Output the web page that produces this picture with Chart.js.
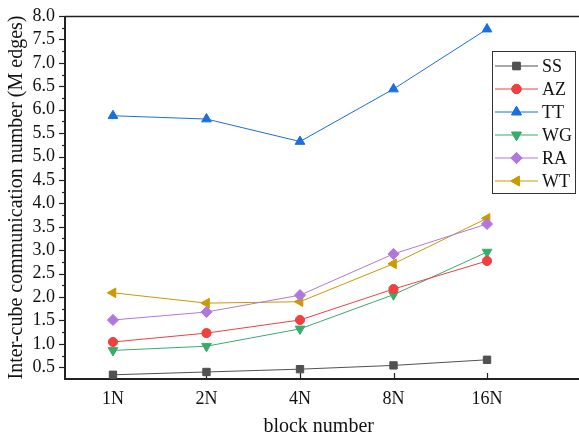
<!DOCTYPE html>
<html>
<head>
<meta charset="utf-8">
<script src="https://cdn.jsdelivr.net/npm/chart.js@4/dist/chart.umd.min.js"></script>
<style>
  html, body { margin: 0; padding: 0; background: #fff; }
  #wrap { width: 579px; height: 437px; }
</style>
</head>
<body>
<div id="wrap"><canvas id="commChart" width="579" height="437"></canvas></div>
<script>
const blockLabels = ['1N', '2N', '4N', '8N', '16N'];

const ss = [0.34, 0.40, 0.46, 0.54, 0.66];
const az = [1.04, 1.23, 1.51, 2.17, 2.77];
const tt = [5.87, 5.80, 5.32, 6.44, 7.72];
const wg = [0.86, 0.95, 1.32, 2.05, 2.96];
const ra = [1.51, 1.68, 2.04, 2.92, 3.56];
const wt = [2.09, 1.87, 1.90, 2.71, 3.68];

const FONT = '"Liberation Serif", "Times New Roman", serif';
const AXIS = '#222';

function series(label, values, color, style, rotation, radius) {
  return {
    label: label,
    data: values.map((v, i) => ({ x: i, y: v })),
    borderColor: color,
    backgroundColor: color,
    borderWidth: 1,
    pointStyle: style,
    rotation: rotation,
    pointRadius: radius,
    pointHoverRadius: radius,
    pointBorderWidth: 1,
    pointBorderColor: color,
    pointBackgroundColor: color
  };
}

// axis lines + ticks like the original (y ticks outward, x ticks inward)
const frame = {
  id: 'frame',
  beforeDatasetsDraw(chart) {
    const ctx = chart.ctx;
    const a = chart.chartArea;
    const xs = chart.scales.x, ys = chart.scales.y;
    const edge = chart.width;
    ctx.save();
    ctx.strokeStyle = AXIS;
    ctx.lineWidth = 1.2;
    for (let v = 0.5; v <= 8.001; v += 0.25) {
      const y = Math.round(ys.getPixelForValue(v)) + 0.5;
      const major = Math.abs(v * 2 - Math.round(v * 2)) < 1e-6;
      ctx.beginPath();
      ctx.moveTo(a.left, y);
      ctx.lineTo(a.left - (major ? 6 : 3), y);
      ctx.stroke();
    }
    blockLabels.forEach((_, i) => {
      const x = Math.round(xs.getPixelForValue(i)) + 0.5;
      ctx.beginPath();
      ctx.moveTo(x, a.bottom);
      ctx.lineTo(x, a.bottom - 6);
      ctx.stroke();
    });
    ctx.lineWidth = 1.5;
    ctx.beginPath();
    ctx.moveTo(a.left, a.top + 0.5);
    ctx.lineTo(edge, a.top + 0.5);
    ctx.stroke();
    ctx.lineWidth = 2;
    ctx.beginPath();
    ctx.moveTo(a.left, a.top);
    ctx.lineTo(a.left, a.bottom);
    ctx.lineTo(edge, a.bottom);
    ctx.stroke();
    ctx.restore();
  }
};

// boxed legend inside the plot, top right
const boxLegend = {
  id: 'boxLegend',
  afterDraw(chart) {
    const ctx = chart.ctx;
    const bx = 492.5, by = 51.5, bw = 83, bh = 142;
    ctx.save();
    ctx.fillStyle = '#fff';
    ctx.fillRect(bx, by, bw, bh);
    ctx.strokeStyle = '#333';
    ctx.lineWidth = 1;
    ctx.strokeRect(bx, by, bw, bh);
    chart.data.datasets.forEach((ds, i) => {
      const y = 66 + i * 23;
      ctx.strokeStyle = ds.borderColor;
      ctx.lineWidth = 1;
      ctx.beginPath();
      ctx.moveTo(495, y);
      ctx.lineTo(538, y);
      ctx.stroke();
      ctx.fillStyle = ds.backgroundColor;
      Chart.helpers.drawPoint(ctx, {
        pointStyle: ds.pointStyle,
        rotation: ds.rotation,
        radius: ds.pointRadius,
        borderWidth: 1
      }, 516.5, y);
      ctx.fill();
      ctx.stroke();
      ctx.fillStyle = '#111';
      ctx.font = '18px ' + FONT;
      ctx.textBaseline = 'middle';
      ctx.textAlign = 'left';
      ctx.fillText(ds.label, 542, y + 1);
    });
    ctx.restore();
  }
};

new Chart(document.getElementById('commChart'), {
  type: 'line',
  data: {
    datasets: [
      series('SS', ss, '#515151', 'rect', 0, 5.2),
      series('AZ', az, '#F14040', 'circle', 0, 4.6),
      series('TT', tt, '#1A6FDF', 'triangle', 0, 5.6),
      series('WG', wg, '#37AD6B', 'triangle', 180, 5.6),
      series('RA', ra, '#B177DE', 'rectRot', 0, 5.6),
      series('WT', wt, '#CC9900', 'triangle', -90, 5.6)
    ]
  },
  options: {
    responsive: false,
    animation: false,
    devicePixelRatio: 1,
    layout: { padding: { top: 16, right: 0, left: 0, bottom: 0 } },
    plugins: { legend: { display: false }, tooltip: { enabled: false } },
    scales: {
      x: {
        type: 'linear',
        min: -0.513,
        max: 4.913,
        grid: { display: false, drawTicks: false },
        border: { display: false },
        afterBuildTicks: s => { s.ticks = blockLabels.map((_, i) => ({ value: i })); },
        afterFit: s => { s.height = 58; s.paddingLeft = 0; s.paddingRight = 0; },
        ticks: {
          padding: 9,
          autoSkip: false,
          maxRotation: 0,
          color: '#111',
          font: { family: FONT, size: 18 },
          callback: v => blockLabels[v]
        },
        title: {
          display: true,
          text: 'block number',
          color: '#111',
          font: { family: FONT, size: 20 },
          padding: { top: 0, bottom: -2 }
        }
      },
      y: {
        min: 0.25,
        max: 8.0,
        grid: { display: false, drawTicks: false },
        border: { display: false },
        afterBuildTicks: s => {
          const t = [];
          for (let k = 1; k <= 16; k++) t.push({ value: k * 0.5 });
          s.ticks = t;
        },
        afterFit: s => { s.width = 65; s.paddingTop = 0; s.paddingBottom = 0; },
        ticks: {
          padding: 10,
          autoSkip: false,
          color: '#111',
          font: { family: FONT, size: 18 },
          callback: v => Number(v).toFixed(1)
        },
        title: {
          display: true,
          text: 'Inter-cube communication number (M edges)',
          color: '#111',
          font: { family: FONT, size: 20 },
          padding: { top: 5, bottom: 0 }
        }
      }
    }
  },
  plugins: [frame, boxLegend]
});
</script>
</body>
</html>
